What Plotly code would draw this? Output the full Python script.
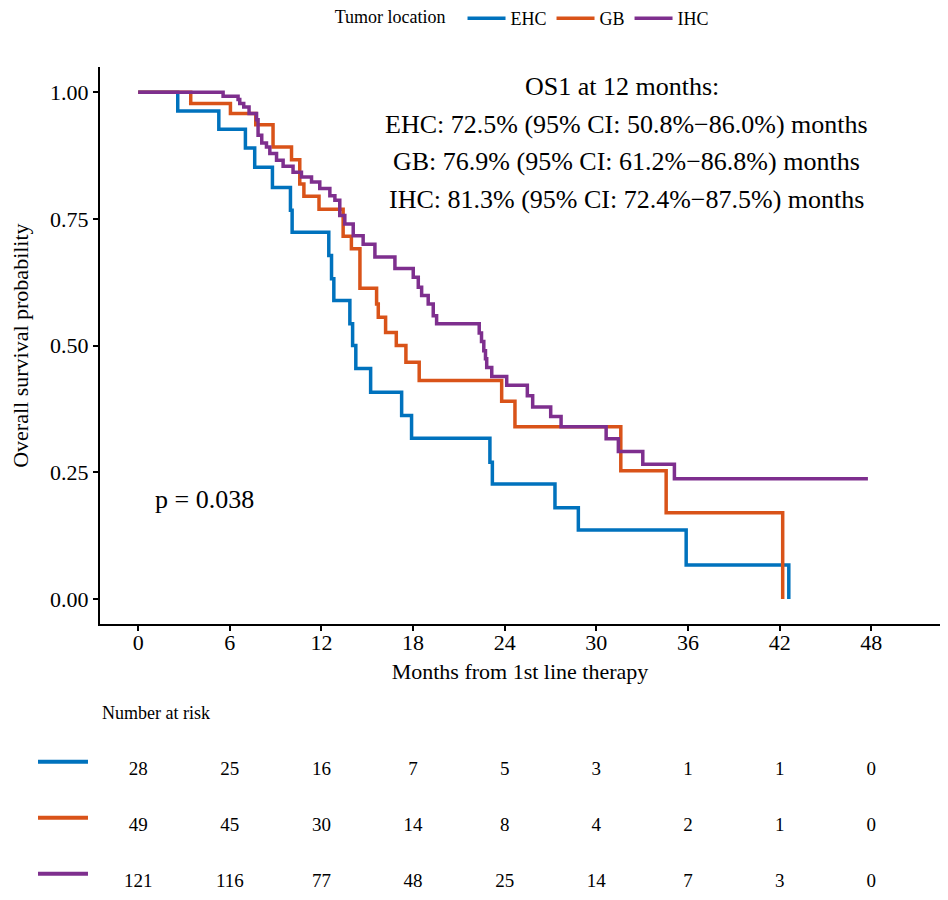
import plotly.graph_objects as go

FONT = "Liberation Serif, Times New Roman, serif"

# ---- Kaplan-Meier step data (months, survival probability) ----
ehc_t = [0, 2.59, 5.28, 7.02, 7.63, 8.79, 9.97, 10.08, 12.48, 12.66, 12.81, 13.86, 14.04, 14.25,
         15.22, 17.25, 17.90, 23.03, 23.19, 27.29, 28.82, 35.88, 42.6]
ehc_s = [1.0, 0.963, 0.927, 0.890, 0.852, 0.812, 0.767, 0.724, 0.678, 0.632, 0.589, 0.543, 0.500, 0.455,
         0.408, 0.362, 0.317, 0.270, 0.227, 0.180, 0.136, 0.067, 0.0]

gb_t = [0, 3.44, 6.04, 7.70, 8.83, 10.04, 10.58, 10.85, 11.84, 13.42, 13.96, 14.52, 15.61, 15.72,
        16.2, 16.9, 17.53, 18.4, 23.8, 24.67, 31.6, 34.57, 42.2]
gb_s = [1.0, 0.978, 0.958, 0.936, 0.892, 0.867, 0.819, 0.795, 0.769, 0.716, 0.691, 0.613, 0.582, 0.556,
        0.526, 0.500, 0.467, 0.431, 0.390, 0.340, 0.253, 0.170, 0.0]

ihc_t = [0, 5.56, 6.54, 6.65, 6.91, 7.26, 7.75, 7.85, 8.09, 8.40, 8.62, 9.06, 9.49, 10.14, 10.69,
         11.35, 11.89, 12.55, 12.88, 13.2, 13.53, 14.08, 14.73, 15.5, 16.81, 18.01, 18.34, 18.56,
         18.99, 19.32, 19.54, 22.33, 22.48, 22.63, 22.74, 22.82, 23.15, 24.13, 25.48, 25.83, 27.01,
         27.69, 30.64, 31.44, 33.04, 35.11, 47.78]
ihc_s = [1.0, 0.992, 0.986, 0.978, 0.971, 0.958, 0.946, 0.915, 0.900, 0.892, 0.879, 0.866, 0.854,
         0.842, 0.833, 0.823, 0.810, 0.796, 0.787, 0.757, 0.740, 0.717, 0.700, 0.675, 0.652, 0.635,
         0.615, 0.599, 0.582, 0.559, 0.543, 0.525, 0.508, 0.490, 0.474, 0.457, 0.439, 0.422, 0.401,
         0.379, 0.360, 0.340, 0.316, 0.291, 0.266, 0.237, 0.237]

# ---- Risk table ----
risk_times = [0, 6, 12, 18, 24, 30, 36, 42, 48]
ehc_risk = [28, 25, 16, 7, 5, 3, 1, 1, 0]
gb_risk = [49, 45, 30, 14, 8, 4, 2, 1, 0]
ihc_risk = [121, 116, 77, 48, 25, 14, 7, 3, 0]

groups = ["EHC", "GB", "IHC"]
colors = ["#0072BD", "#D95319", "#7E2F8E"]
y_ticks = [0, 0.25, 0.5, 0.75, 1.0]
y_ticktext = ["0.00", "0.25", "0.50", "0.75", "1.00"]

os_lines = ["OS1 at 12 months:",
            "EHC: 72.5% (95% CI: 50.8%\u221286.0%) months",
            "GB: 76.9% (95% CI: 61.2%\u221286.8%) months",
            "IHC: 81.3% (95% CI: 72.4%\u221287.5%) months"]
pval_text = "p = 0.038"

fig = go.Figure()

curves = [(ehc_t, ehc_s), (gb_t, gb_s), (ihc_t, ihc_s)]
for name, (t, s), c in zip(groups, curves, colors):
    fig.add_trace(go.Scatter(x=t, y=s, mode="lines", name=name,
                             line=dict(color=c, width=3.5, shape="hv"),
                             xaxis="x", yaxis="y", hoverinfo="skip"))

risks = [ehc_risk, gb_risk, ihc_risk]
rows = [3, 2, 1]
for risk, row in zip(risks, rows):
    fig.add_trace(go.Scatter(x=risk_times, y=[row] * len(risk_times), mode="text",
                             text=[str(v) for v in risk],
                             textfont=dict(family=FONT, size=19, color="black"),
                             textposition="middle center", cliponaxis=False,
                             showlegend=False, xaxis="x2", yaxis="y2", hoverinfo="skip"))

# colored swatches in the risk table
for row, c in zip(rows, colors):
    fig.add_shape(type="line", xref="paper", yref="y2",
                  x0=-0.0738, x1=-0.0143, y0=row + 0.16, y1=row + 0.16,
                  line=dict(color=c, width=4))

ann = []
os_y = [1.011, 0.937, 0.863, 0.789]
os_x = [31.7, 32, 32, 32]
for txt, yy, xx in zip(os_lines, os_y, os_x):
    ann.append(dict(text=txt, x=xx, y=yy, xref="x", yref="y", showarrow=False,
                    xanchor="center", yanchor="middle",
                    font=dict(family=FONT, size=26, color="black")))
ann.append(dict(text=pval_text, x=0.95, y=0.197, xref="x", yref="y", showarrow=False,
                xanchor="left", yanchor="middle",
                font=dict(family=FONT, size=26, color="black")))
ann.append(dict(text="Number at risk", x=0, y=4.03, xref="paper", yref="y2", showarrow=False,
                xanchor="left", yanchor="middle",
                font=dict(family=FONT, size=18, color="black")))

axis_common = dict(showgrid=False, zeroline=False, showline=True, linecolor="black",
                   linewidth=2, ticks="outside", ticklen=5, tickwidth=2, tickcolor="black",
                   automargin=False,
                   tickfont=dict(family=FONT, size=22, color="black"))

# the page body adds an 8px offset, so the figure is 940x892 placed at (8, 8)
fig.update_layout(
    width=940, height=892,
    margin=dict(l=92, r=8, t=0, b=0, autoexpand=False),
    paper_bgcolor="white", plot_bgcolor="white",
    font=dict(family=FONT, color="black"),
    xaxis=dict(domain=[0, 1], range=[-2.5, 52.5], tickvals=risk_times, anchor="y",
               ticklabelstandoff=-8,
               title=dict(text="Months from 1st line therapy", standoff=10,
                          font=dict(family=FONT, size=22, color="black")),
               **axis_common),
    yaxis=dict(domain=[0.3091, 0.9339], range=[-0.05, 1.05], tickvals=y_ticks,
               ticktext=y_ticktext, anchor="x",
               title=dict(text="Overall survival probability", standoff=19,
                          font=dict(family=FONT, size=22, color="black")),
               **axis_common),
    xaxis2=dict(domain=[0, 1], range=[-2.5, 52.5], anchor="y2", visible=False),
    yaxis2=dict(domain=[0, 0.3], range=[0.691, 5.470], anchor="x2", visible=False),
    legend=dict(orientation="h", x=0.277, xanchor="left", y=1.009, yanchor="top",
                title=dict(text="Tumor location\u00a0\u00a0", side="left",
                           font=dict(family=FONT, size=18, color="black")),
                font=dict(family=FONT, size=18, color="black"),
                itemwidth=38, bgcolor="rgba(0,0,0,0)"),
    annotations=ann,
    showlegend=True,
)

fig.write_html("out.html")
